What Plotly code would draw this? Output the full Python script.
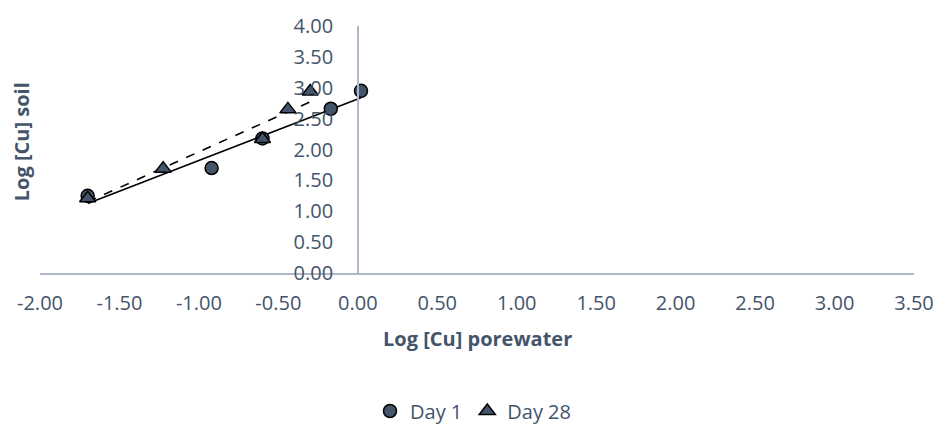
import numpy as np
import plotly.graph_objects as go

# Log-transformed copper concentrations
day1_x = [-1.70, -0.92, -0.60, -0.17, 0.02]
day1_y = [1.25, 1.70, 2.18, 2.66, 2.95]
day28_x = [-1.70, -1.225, -0.60, -0.44, -0.30]
day28_y = [1.21, 1.69, 2.17, 2.65, 2.94]

x_ticks = [-2.0, -1.5, -1.0, -0.5, 0.0, 0.5, 1.0, 1.5, 2.0, 2.5, 3.0, 3.5]
x_tick_text = ["-2.00", "-1.50", "-1.00", "-0.50", "0.00", "0.50",
               "1.00", "1.50", "2.00", "2.50", "3.00", "3.50"]
y_ticks = [0.0, 0.5, 1.0, 1.5, 2.0, 2.5, 3.0, 3.5, 4.0]
y_tick_text = ["0.00", "0.50", "1.00", "1.50", "2.00", "2.50", "3.00", "3.50", "4.00"]

TEXT = "#44546A"
AXIS = "#ADB9CA"
FILL = "#44546A"
FONT = "Open Sans"

X_MIN, X_MAX = -2.0, 3.5
W, H = 946, 429
M_L, M_R, M_T, M_B = 40, 26, 22, 156
PLOT_H = H - M_T - M_B
PLOT_W = W - M_L - M_R
BOTTOM = H - M_B


def fit_line(xs, ys):
    slope, intercept = np.polyfit(xs, ys, 1)
    xe = np.array([min(xs), max(xs)])
    return xe, slope * xe + intercept


fig = go.Figure()

# linear trendlines
tx1, ty1 = fit_line(day1_x, day1_y)
tx28, ty28 = fit_line(day28_x, day28_y)
fig.add_trace(go.Scatter(x=tx1, y=ty1, mode="lines", showlegend=False,
                         line=dict(color="black", width=1.6), hoverinfo="skip"))
fig.add_trace(go.Scatter(x=tx28, y=ty28, mode="lines", showlegend=False,
                         line=dict(color="black", width=1.6, dash="dash"), hoverinfo="skip"))

fig.add_trace(go.Scatter(
    x=day1_x, y=day1_y, mode="markers", name="Day 1",
    marker=dict(symbol="circle", size=13, color=FILL, line=dict(color="black", width=1.5)),
))
fig.add_trace(go.Scatter(
    x=day28_x, y=day28_y, mode="markers", name="Day 28",
    marker=dict(symbol="triangle-up", size=14, color=FILL, line=dict(color="black", width=1.5)),
))

fig.update_layout(
    width=W, height=H,
    margin=dict(l=M_L, r=M_R, t=M_T, b=M_B),
    paper_bgcolor="white", plot_bgcolor="white",
    font=dict(family=FONT, color=TEXT, size=20),
    xaxis=dict(
        range=[X_MIN, X_MAX], domain=[0, 1],
        tickvals=x_ticks, ticktext=x_tick_text,
        showgrid=False, zeroline=False,
        showline=True, linecolor=AXIS, linewidth=2,
        ticks="", ticklabelstandoff=11,
        tickfont=dict(size=20, color=TEXT, family=FONT),
    ),
    yaxis=dict(
        range=[0, 4], anchor="free",
        position=(0 - X_MIN) / (X_MAX - X_MIN), side="left",
        tickvals=y_ticks, ticktext=y_tick_text,
        showgrid=False, zeroline=False,
        showline=True, linecolor=AXIS, linewidth=1.5,
        ticks="", ticklabelstandoff=20,
        tickfont=dict(size=20, color=TEXT, family=FONT),
    ),
    legend=dict(
        orientation="h", xref="container", yref="container",
        x=0.5, xanchor="center", y=(H - 411) / H, yanchor="middle",
        font=dict(size=20, color=TEXT, family=FONT),
        itemwidth=30, tracegroupgap=0,
    ),
    annotations=[
        dict(text="<b>Log [Cu] porewater</b>", xref="paper", yref="paper",
             x=0.5, y=(BOTTOM - 340) / PLOT_H, xanchor="center", yanchor="middle",
             showarrow=False, font=dict(size=20, color=TEXT, family=FONT)),
        dict(text="<b>Log [Cu] soil</b>", xref="paper", yref="paper",
             x=(21 - M_L) / PLOT_W, y=(BOTTOM - 140) / PLOT_H, xanchor="center", yanchor="middle",
             textangle=-90, showarrow=False, font=dict(size=20, color=TEXT, family=FONT)),
    ],
)

fig.write_html("out.html")
